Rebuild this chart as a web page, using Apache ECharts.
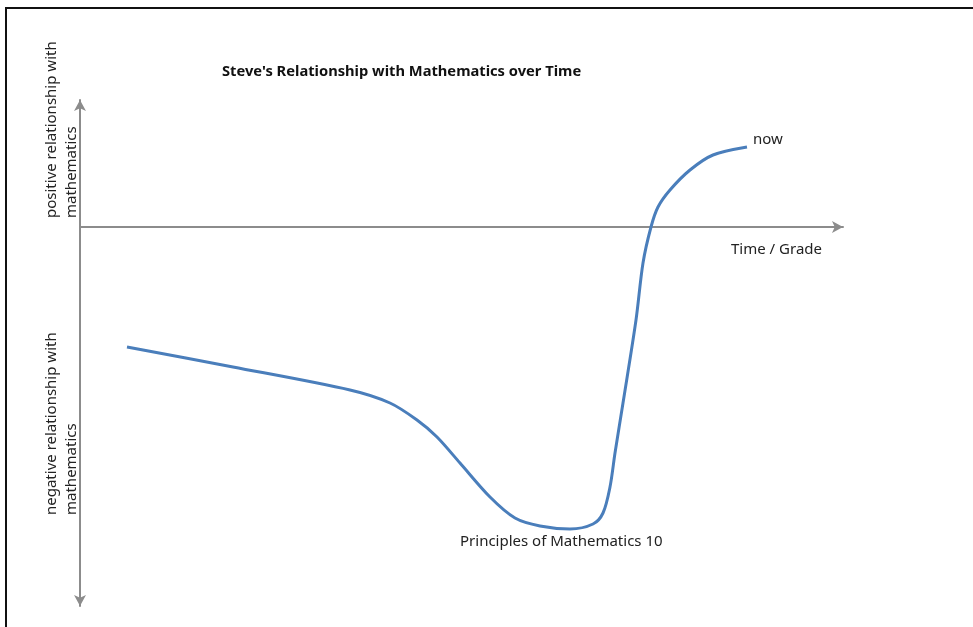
<!DOCTYPE html>
<html>
<head>
<meta charset="utf-8">
<script src="https://cdn.jsdelivr.net/npm/echarts@6/dist/echarts.min.js"></script>
<style>html,body{margin:0;padding:0;background:#fff;}#c{width:973px;height:627px;}</style>
</head>
<body>
<div id="c"></div>
<script>
// Curve: time (x) vs relationship (y), arbitrary units
const timeValues = [4.7, 15.3, 27.0, 31.0, 33.7, 35.7, 38.0, 41.0, 43.5, 46.0, 49.0, 51.3, 52.3, 53.0, 53.5, 54.3, 55.6, 56.3, 57.1, 57.8, 59.0, 61.0, 63.3, 66.7];
const relationValues = [-12.0, -14.0, -16.3, -17.6, -19.3, -21.0, -23.6, -27.0, -29.1, -29.9, -30.2, -29.7, -28.6, -26.0, -22.6, -17.6, -9.3, -3.6, 0, 2.0, 3.7, 5.7, 7.2, 8.0];
const chartTitle = "Steve's Relationship with Mathematics over Time";
const xAxisLabel = "Time / Grade";
const posLabel = ["positive relationship with", "mathematics"];
const negLabel = ["negative relationship with", "mathematics"];
const endLabel = "now";
const lowLabel = "Principles of Mathematics 10";

const chart = echarts.init(document.getElementById('c'));
const font = '"Noto Sans", "Open Sans", sans-serif';
const axisColor = '#8c8c8c';
const data = timeValues.map((x, i) => [x, relationValues[i]]);

function vText(x, y, t) {
  return { type: 'text', x: x, y: y, rotation: Math.PI / 2,
    style: { text: t, fontSize: 15, fontFamily: font, fill: '#222', textAlign: 'left', textVerticalAlign: 'middle' } };
}

chart.setOption({
  animation: false,
  backgroundColor: '#fff',
  grid: { left: 80, right: 130, top: 100, bottom: 21 },
  xAxis: {
    type: 'value', min: 0, max: 76.3,
    axisLine: { show: true, onZero: true, symbol: ['none', 'arrow'], symbolSize: [9, 11], lineStyle: { color: axisColor, width: 2 } },
    axisTick: { show: false }, axisLabel: { show: false }, splitLine: { show: false }
  },
  yAxis: {
    type: 'value', min: -37.9, max: 12.7,
    axisLine: { show: true, onZero: false, symbol: ['arrow', 'arrow'], symbolSize: [9, 11], lineStyle: { color: axisColor, width: 2 } },
    axisTick: { show: false }, axisLabel: { show: false }, splitLine: { show: false }
  },
  series: [{
    type: 'line', data: data, smooth: 0.3, symbol: 'none',
    lineStyle: { color: '#4a7ebb', width: 3 }
  }],
  graphic: [
    { type: 'line', shape: { x1: 5, y1: 8, x2: 973, y2: 8 }, style: { stroke: '#111', lineWidth: 2 } },
    { type: 'line', shape: { x1: 6, y1: 7, x2: 6, y2: 627 }, style: { stroke: '#111', lineWidth: 2 } },
    { type: 'text', x: 222, y: 72, style: { text: chartTitle, fontSize: 14.7, fontWeight: 'bold', fontFamily: font, fill: '#111', textVerticalAlign: 'middle' } },
    { type: 'text', x: 731, y: 250, style: { text: xAxisLabel, fontSize: 15, fontFamily: font, fill: '#222', textVerticalAlign: 'middle' } },
    { type: 'text', x: 753, y: 140, style: { text: endLabel, fontSize: 15, fontFamily: font, fill: '#222', textVerticalAlign: 'middle' } },
    { type: 'text', x: 460, y: 542, style: { text: lowLabel, fontSize: 15, fontFamily: font, fill: '#222', textVerticalAlign: 'middle' } },
    vText(52, 218, posLabel[0]),
    vText(72, 218, posLabel[1]),
    vText(52, 515, negLabel[0]),
    vText(72, 515, negLabel[1])
  ]
});
</script>
</body>
</html>
